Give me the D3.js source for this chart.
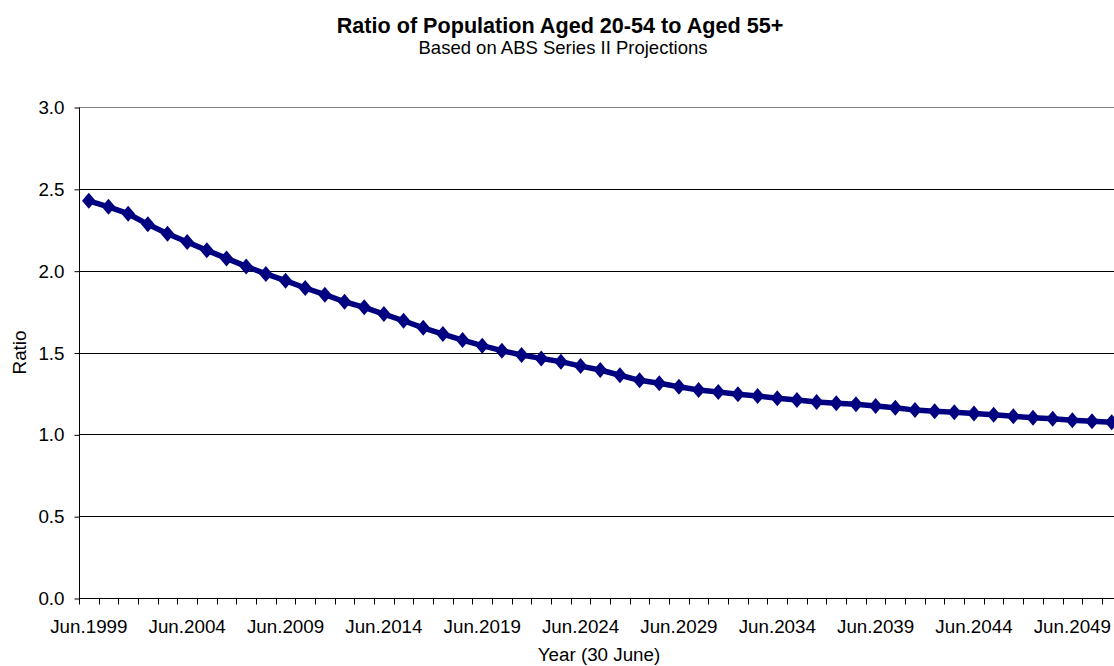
<!DOCTYPE html>
<html>
<head>
<meta charset="utf-8">
<script src="https://cdn.jsdelivr.net/npm/d3@7"></script>
<style>
  html, body { margin: 0; padding: 0; background: #fff; }
  svg { display: block; font-family: "Liberation Sans", Arial, sans-serif; }
</style>
</head>
<body>
<svg id="chart" width="1114" height="666"></svg>
<script>
// Projection years (30 June of each year)
const years = d3.range(1999, 2052);

// Ratio of population aged 20-54 to population aged 55+
const ratios = [
  2.427, 2.390, 2.348, 2.283, 2.226, 2.175, 2.124, 2.075, 2.026, 1.980,
  1.939, 1.894, 1.853, 1.810, 1.776, 1.735, 1.694, 1.651, 1.613, 1.576,
  1.542, 1.511, 1.485, 1.464, 1.444, 1.417, 1.393, 1.361, 1.330, 1.312,
  1.291, 1.271, 1.259, 1.245, 1.234, 1.220, 1.210, 1.198, 1.190, 1.184,
  1.173, 1.163, 1.148, 1.141, 1.135, 1.127, 1.119, 1.110, 1.101, 1.095,
  1.086, 1.080, 1.074
];

// Y axis ticks
const yTicks = [0, 0.5, 1.0, 1.5, 2.0, 2.5, 3.0];

// Years that carry a label on the category axis
const labelledYears = years.filter((y, i) => i % 5 === 0);

const title = "Ratio of Population Aged 20-54 to Aged 55+";
const subtitle = "Based on ABS Series II Projections";
const xTitle = "Year (30 June)";
const yTitle = "Ratio";

const svg = d3.select("#chart");
const plot = { left: 79, top: 107, bottom: 598, step: 19.67 };
plot.right = plot.left + plot.step * years.length;

const x = d3.scaleBand().domain(years).range([plot.left, plot.right]).padding(0);
const y = d3.scaleLinear().domain([0, 3]).range([plot.bottom, plot.top]);

const fontSize = 18.8;

// Titles
svg.append("text").attr("x", 560).attr("y", 33)
  .attr("text-anchor", "middle").attr("font-size", 21.6).attr("font-weight", "bold")
  .text(title);
svg.append("text").attr("x", 563).attr("y", 54)
  .attr("text-anchor", "middle").attr("font-size", 18.5)
  .text(subtitle);

// Horizontal gridlines
svg.append("g").selectAll("line").data(yTicks.filter(v => v > 0)).join("line")
  .attr("x1", plot.left).attr("x2", plot.right)
  .attr("y1", d => Math.round(y(d)) + 0.5).attr("y2", d => Math.round(y(d)) + 0.5)
  .attr("stroke", d => d === 3 ? "#808080" : "#000")
  .attr("stroke-width", 1);

// Y axis
const yAxis = d3.axisLeft(y).tickValues(yTicks).tickFormat(d3.format(".1f"))
  .tickSize(5).tickPadding(10);
const gy = svg.append("g")
  .attr("transform", `translate(${plot.left + 0.5},0.5)`)
  .call(yAxis);
gy.select(".domain").attr("stroke", "#000").attr("d", `M0,${plot.top}V${plot.bottom}`);
gy.selectAll(".tick line").attr("stroke", "#000");
gy.selectAll(".tick text").attr("font-size", fontSize).attr("fill", "#000")
  .attr("font-family", "'Liberation Sans', Arial, sans-serif");

// X axis: tick marks on category boundaries, labels every five years
const gx = svg.append("g").attr("transform", `translate(0,${plot.bottom + 0.5})`);
gx.append("line").attr("x1", plot.left).attr("x2", plot.right)
  .attr("y1", 0).attr("y2", 0).attr("stroke", "#000");
gx.selectAll("line.tick").data(years).join("line").attr("class", "tick")
  .attr("x1", d => Math.round(x(d)) + 0.5).attr("x2", d => Math.round(x(d)) + 0.5)
  .attr("y1", 0).attr("y2", 6).attr("stroke", "#000");
gx.selectAll("text").data(labelledYears).join("text")
  .attr("x", d => x(d) + x.bandwidth() / 2)
  .attr("y", 34)
  .attr("text-anchor", "middle").attr("font-size", fontSize)
  .text(d => "Jun." + d);

// Axis titles
svg.append("text").attr("x", 599).attr("y", 661)
  .attr("text-anchor", "middle").attr("font-size", fontSize).text(xTitle);
svg.append("text")
  .attr("transform", `translate(26,${(plot.top + plot.bottom) / 2}) rotate(-90)`)
  .attr("text-anchor", "middle").attr("font-size", fontSize).text(yTitle);

// Series line and diamond markers
const pts = years.map((yr, i) => ({ yr, v: ratios[i] }));
const cx = d => x(d.yr) + x.bandwidth() / 2;

svg.append("path").datum(pts)
  .attr("fill", "none").attr("stroke", "#000080").attr("stroke-width", 5.5)
  .attr("stroke-linejoin", "round")
  .attr("d", d3.line().x(cx).y(d => y(d.v)));

const rx = 6.8, ry = 8;
svg.append("g").selectAll("path").data(pts).join("path")
  .attr("fill", "#000080")
  .attr("d", d => {
    const px = cx(d), py = y(d.v);
    return `M${px},${py - ry}L${px + rx},${py}L${px},${py + ry}L${px - rx},${py}Z`;
  });
</script>
</body>
</html>
